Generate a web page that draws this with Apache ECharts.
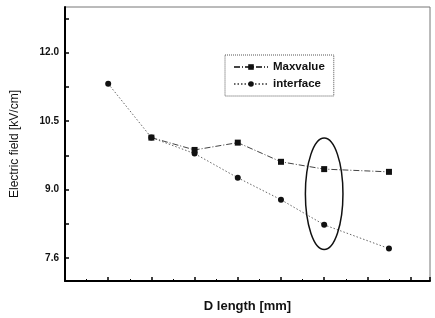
<!DOCTYPE html>
<html><head><meta charset="utf-8">
<script src="https://cdn.jsdelivr.net/npm/echarts@6/dist/echarts.min.js"></script>
<style>html,body{margin:0;padding:0;background:#fff}#c{width:435px;height:318px}</style>
</head><body><div id="c"></div>
<script>
// data
const maxX = [2, 3, 4, 5, 6, 7.5];
const maxY = [10.14, 9.87, 10.03, 9.61, 9.45, 9.39];
const intX = [1, 2, 3, 4, 5, 6, 7.5];
const intY = [11.32, 10.14, 9.79, 9.26, 8.78, 8.23, 7.71];
const yTickValues = [7.5, 8.25, 9, 9.75, 10.5, 11.25, 12, 12.75];
const yLabelValues = [7.5, 9, 10.5, 12];
const yLabelTexts = ['7.6', '9.0', '10.5', '12.0'];
const seriesNames = ['Maxvalue', 'interface'];
// annotation ellipse (data units): center x, center y, half-width x, half-height y
const ellipseData = [6, 8.91, 0.435, 1.22];

const chart = echarts.init(document.getElementById('c'), null, {renderer: 'canvas'});
const FONT = '"Liberation Sans", Arial, sans-serif';
chart.setOption({
  animation: false,
  backgroundColor: '#fff',
  grid: {left: 65, top: 7, right: 5, bottom: 37, show: true, borderColor: '#777', borderWidth: 1},
  legend: {
    left: 225, top: 55, orient: 'vertical', itemGap: 5,
    padding: [6, 9, 6, 8], itemWidth: 34, itemHeight: 7,
    borderColor: '#555', borderWidth: 1, borderType: 'dotted',
    textStyle: {fontFamily: FONT, fontSize: 11.5, fontWeight: 'bold', color: '#111'},
    data: seriesNames
  },
  xAxis: {
    type: 'value', min: 0, max: 8.45, interval: 1,
    name: 'D length [mm]', nameLocation: 'middle', nameGap: 19,
    nameTextStyle: {fontFamily: FONT, fontSize: 13, fontWeight: 'bold', color: '#111'},
    axisLine: {lineStyle: {color: '#000', width: 2}},
    axisTick: {inside: true, length: 4, lineStyle: {color: '#000', width: 1.5}},
    minorTick: {show: true, splitNumber: 2, length: 2, lineStyle: {color: '#000'}},
    axisLabel: {show: false},
    splitLine: {show: false}
  },
  yAxis: {
    type: 'value', min: 7, max: 13,
    name: 'Electric field [kV/cm]', nameLocation: 'middle', nameGap: 44,
    nameTextStyle: {fontFamily: FONT, fontSize: 12, color: '#111'},
    axisLine: {lineStyle: {color: '#000', width: 2}},
    axisTick: {inside: true, length: 4, customValues: yTickValues, lineStyle: {color: '#000', width: 1.5}},
    axisLabel: {
      customValues: yLabelValues, margin: 6,
      fontFamily: FONT, fontSize: 10, fontWeight: 'bold', color: '#111',
      formatter: v => { const i = yLabelValues.findIndex(a => Math.abs(a - v) < 1e-6); return i >= 0 ? yLabelTexts[i] : ''; }
    },
    splitLine: {show: false}
  },
  series: [
    {
      name: seriesNames[0], type: 'line', symbol: 'rect', symbolSize: 6,
      data: maxX.map((x, i) => [x, maxY[i]]),
      itemStyle: {color: '#111'},
      lineStyle: {color: '#444', width: 1, type: [6, 2, 1, 2]}
    },
    {
      name: seriesNames[1], type: 'line', symbol: 'circle', symbolSize: 6,
      data: intX.map((x, i) => [x, intY[i]]),
      itemStyle: {color: '#111'},
      lineStyle: {color: '#666', width: 1, type: [1.5, 2]}
    }
  ]
});
const c = chart.convertToPixel({gridIndex: 0}, [ellipseData[0], ellipseData[1]]);
const e = chart.convertToPixel({gridIndex: 0}, [ellipseData[0] + ellipseData[2], ellipseData[1] + ellipseData[3]]);
chart.setOption({
  graphic: [{
    type: 'ellipse', z: 100,
    shape: {cx: c[0], cy: c[1], rx: Math.abs(e[0] - c[0]), ry: Math.abs(c[1] - e[1])},
    style: {fill: 'none', stroke: '#111', lineWidth: 1.5}
  }]
});
</script></body></html>
